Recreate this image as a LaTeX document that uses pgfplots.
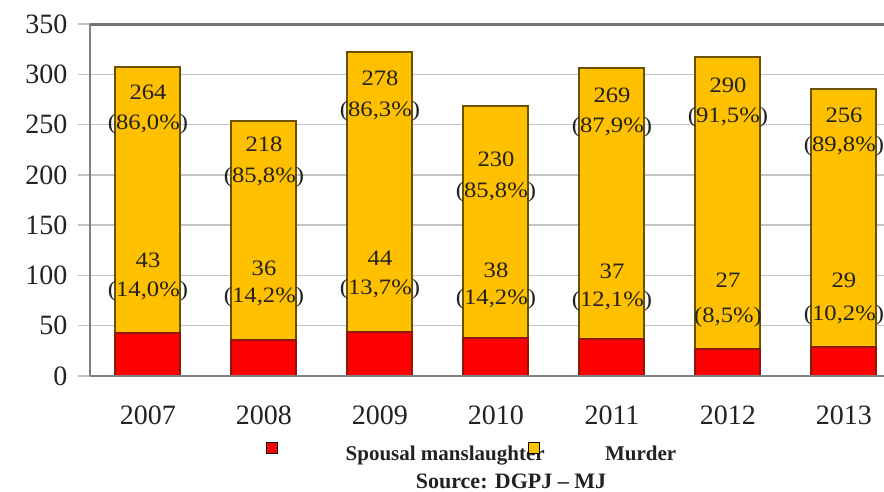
\documentclass[border=0pt]{standalone}
\usepackage{pgfplots}
\pgfplotsset{compat=1.18}
\usepackage{fontspec}
\setmainfont{Liberation Serif}
\definecolor{redbar}{HTML}{FF0000}
\definecolor{redline}{HTML}{8C1A0A}
\definecolor{gold}{HTML}{FFC000}
\definecolor{goldline}{HTML}{6B5200}
\definecolor{gridc}{HTML}{C4C4C4}
\definecolor{txt}{HTML}{222222}
\tikzset{lab/.style={font=\fontsize{22}{24}\selectfont, text=txt, xscale=1.12, transform shape}}
\begin{document}
\begin{tikzpicture}
\clip (-90pt,-115pt) rectangle (794pt,376pt);
\begin{axis}[
  at={(0,0)}, anchor=south west,
  scale only axis, width=812pt, height=352pt,
  xmin=-0.5, xmax=6.5, ymin=0, ymax=350,
  ybar stacked, bar width=65pt,
  axis line style={draw=none},
  ytick={0,50,...,350},
  xtick={0,...,6}, xticklabels={2007,2008,2009,2010,2011,2012,2013},
  xtick style={draw=none},
  ytick style={draw=gridc, line width=1.5pt},
  major tick length=12pt, tick align=outside,
  extra x ticks={0.5,1.5,2.5,3.5,4.5,5.5},
  extra x tick labels={},
  extra x tick style={major tick length=6pt, tick style={draw=gray, line width=1.5pt}},
  ymajorgrids, grid style={draw=gridc, line width=1.5pt},
  /pgf/number format/assume math mode=true,
  ticklabel style={font=\fontsize{28}{30}\selectfont, text=txt},
  yticklabel style={xshift=-7pt},
  xticklabel style={yshift=-14pt},
  legend style={at={(axis description cs:0,0)}, anchor=west, xshift=176pt, yshift=-77pt,
    draw=none, fill=none, inner sep=0pt, font=\bfseries\fontsize{21}{24}\selectfont, text=txt,
    /tikz/every even column/.append style={column sep=-19pt}},
  legend columns=2,
  legend cell align=left,
]
\addplot[fill=redbar, draw=redline, line width=2pt,
  legend image code/.code={\draw[fill=redbar, draw=black, line width=1pt] (0pt,0pt) rectangle (11pt,11pt); \path[draw=none, fill=none] (0pt,0pt) -- (77pt,0pt);}]
  coordinates {(0,43) (1,36) (2,44) (3,38) (4,37) (5,27) (6,29)};
\addlegendentry{Spousal manslaughter}
\addplot[fill=gold, draw=goldline, line width=2pt,
  legend image code/.code={\draw[fill=gold, draw=black, line width=1pt] (0pt,0pt) rectangle (11pt,11pt); \path[draw=none, fill=none] (0pt,0pt) -- (75pt,0pt);}]
  coordinates {(0,264) (1,218) (2,278) (3,230) (4,269) (5,290) (6,256)};
\addlegendentry{Murder}
\coordinate (tl) at (rel axis cs:0,1);
\coordinate (tr) at (rel axis cs:1,1);
\coordinate (bl) at (rel axis cs:0,0);
\coordinate (br) at (rel axis cs:1,0);
% murder label positions
\coordinate (m0) at (axis cs:0,282); \coordinate (p0) at (axis cs:0,250);
\coordinate (m1) at (axis cs:1,230); \coordinate (p1) at (axis cs:1,198);
\coordinate (m2) at (axis cs:2,296); \coordinate (p2) at (axis cs:2,263);
\coordinate (m3) at (axis cs:3,215); \coordinate (p3) at (axis cs:3,183);
\coordinate (m4) at (axis cs:4,279); \coordinate (p4) at (axis cs:4,247);
\coordinate (m5) at (axis cs:5,289); \coordinate (p5) at (axis cs:5,257);
\coordinate (m6) at (axis cs:6,259); \coordinate (p6) at (axis cs:6,228);
% spousal label positions
\coordinate (s0) at (axis cs:0,115); \coordinate (q0) at (axis cs:0,84);
\coordinate (s1) at (axis cs:1,107); \coordinate (q1) at (axis cs:1,78);
\coordinate (s2) at (axis cs:2,117); \coordinate (q2) at (axis cs:2,86);
\coordinate (s3) at (axis cs:3,105); \coordinate (q3) at (axis cs:3,76);
\coordinate (s4) at (axis cs:4,104); \coordinate (q4) at (axis cs:4,74);
\coordinate (s5) at (axis cs:5,95);  \coordinate (q5) at (axis cs:5,58);
\coordinate (s6) at (axis cs:6,95);  \coordinate (q6) at (axis cs:6,60);
\end{axis}
\draw[draw=black!55, line width=3pt] (tl) -- (tr);
\draw[draw=gray, line width=2pt] (bl) -- (tl);
\draw[draw=gray, line width=2pt] (bl) -- (br);
\node[lab] at (m0) {264}; \node[lab] at (p0) {(86,0\%)};
\node[lab] at (m1) {218}; \node[lab] at (p1) {(85,8\%)};
\node[lab] at (m2) {278}; \node[lab] at (p2) {(86,3\%)};
\node[lab] at (m3) {230}; \node[lab] at (p3) {(85,8\%)};
\node[lab] at (m4) {269}; \node[lab] at (p4) {(87,9\%)};
\node[lab] at (m5) {290}; \node[lab] at (p5) {(91,5\%)};
\node[lab] at (m6) {256}; \node[lab] at (p6) {(89,8\%)};
\node[lab] at (s0) {43}; \node[lab] at (q0) {(14,0\%)};
\node[lab] at (s1) {36}; \node[lab] at (q1) {(14,2\%)};
\node[lab] at (s2) {44}; \node[lab] at (q2) {(13,7\%)};
\node[lab] at (s3) {38}; \node[lab] at (q3) {(14,2\%)};
\node[lab] at (s4) {37}; \node[lab] at (q4) {(12,1\%)};
\node[lab] at (s5) {27}; \node[lab] at (q5) {(8,5\%)};
\node[lab] at (s6) {29}; \node[lab] at (q6) {(10,2\%)};
\node[anchor=base, font=\bfseries\fontsize{22}{24}\selectfont, text=txt] at (421pt,-112pt) {Source: DGPJ – MJ};
\end{tikzpicture}
\end{document}
